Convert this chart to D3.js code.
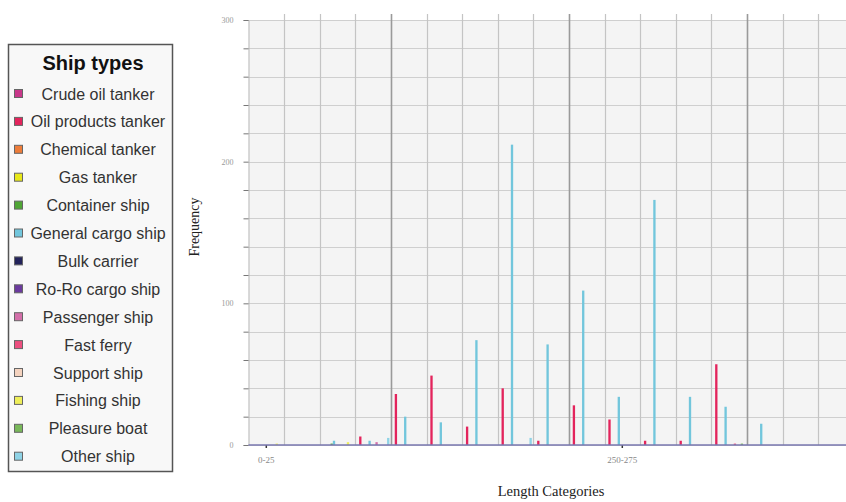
<!DOCTYPE html>
<html>
<head>
<meta charset="utf-8">
<script src="https://cdn.jsdelivr.net/npm/d3@7"></script>
<style>
    body { margin: 0; background: #fff; }
    svg { display: block; }
</style>
</head>
<body>
<script>
// Length categories (25 m bins), only some of them get a label on the axis
const categories = ["0-25", "25-50", "50-75", "75-100", "100-125", "125-150", "150-175", "175-200",
    "200-225", "225-250", "250-275", "275-300", "300-325", "325-350", "350-375", "375-400", "400-425"]
const labelledCategories = ["0-25", "250-275"]

const shipTypes = ["Crude oil tanker", "Oil products tanker", "Chemical tanker", "Gas tanker", "Container ship",
    "General cargo ship", "Bulk carrier", "Ro-Ro cargo ship", "Passenger ship", "Fast ferry", "Support ship",
    "Fishing ship", "Pleasure boat", "Other ship"]
const shipColors = ["#c8388a", "#e3245c", "#ee7d3a", "#e8e81a", "#4fa535", "#72c6dc", "#23235a",
    "#6b3a9e", "#d36fa9", "#ec4f7f", "#f4d3bf", "#efef5a", "#79b85a", "#8fd3e6"]

// frequencies per length category, one array per ship type
const crudeOil     = [0, 0, 0, 0, 0, 0, 0, 0, 0, 0, 0, 0, 0, 0, 0, 0, 0]
const oilProducts  = [0, 0, 0, 6, 36, 49, 13, 40, 3, 28, 18, 3, 3, 57, 0, 0, 0]
const chemical     = [0, 0, 0, 0, 0, 0, 0, 0, 0, 0, 0, 0, 0, 0, 0, 0, 0]
const gas          = [0, 0, 0, 0, 0, 0, 0, 0, 0, 0, 0, 0, 0, 0, 0, 0, 0]
const container    = [0, 0, 1, 0, 0, 0, 0, 0, 0, 0, 0, 0, 0, 0, 0, 0, 0]
const generalCargo = [0, 0, 3, 3, 20, 16, 74, 212, 71, 109, 34, 173, 34, 27, 15, 0, 0]
const bulk         = [0, 0, 0, 0, 0, 0, 0, 0, 0, 0, 0, 0, 0, 0, 0, 0, 0]
const roro         = [0, 0, 0, 0, 0, 0, 0, 0, 0, 0, 0, 0, 0, 0, 0, 0, 0]
const passenger    = [0, 0, 0, 2, 0, 0, 0, 0, 0, 0, 0, 0, 0, 0, 0, 0, 0]
const fastFerry    = [0, 0, 0, 0, 0, 0, 0, 0, 0, 0, 0, 0, 0, 1, 0, 0, 0]
const support      = [0, 0, 0, 0, 0, 0, 0, 0, 0, 0, 0, 0, 0, 0, 0, 0, 0]
const fishing      = [1, 0, 2, 0, 0, 0, 0, 0, 0, 0, 0, 0, 0, 0, 0, 0, 0]
const pleasure     = [0, 0, 0, 0, 0, 0, 0, 0, 0, 0, 0, 0, 0, 1, 0, 0, 0]
const other        = [0, 0, 0, 5, 0, 0, 0, 5, 0, 0, 0, 0, 0, 0, 0, 0, 0]

const seriesValues = [crudeOil, oilProducts, chemical, gas, container, generalCargo, bulk,
    roro, passenger, fastFerry, support, fishing, pleasure, other]

const yTicks = d3.range(0, 301, 20)

const width = 846
const height = 502
const plotLeft = 248.5
const plotTop = 20
const plotBottom = 445
const catStep = 35.6

const svg = d3.select("body").append("svg")
    .attr("width", width)
    .attr("height", height)

const x0 = d3.scaleBand()
    .domain(categories)
    .range([plotLeft, plotLeft + catStep * categories.length])
    .paddingInner(0.085)
    .paddingOuter(0.0425)

const x1 = d3.scaleBand()
    .domain(shipTypes)
    .range([0, x0.bandwidth()])
    .padding(0)

const y = d3.scaleLinear()
    .domain([0, 300])
    .range([plotBottom, plotTop])

// plot background
svg.append("rect")
    .attr("x", plotLeft)
    .attr("y", plotTop)
    .attr("width", width - plotLeft)
    .attr("height", plotBottom - plotTop)
    .attr("fill", "#f4f4f4")

// horizontal grid, every 20
svg.append("g")
    .selectAll("line")
    .data(yTicks)
    .join("line")
    .attr("x1", plotLeft)
    .attr("x2", width)
    .attr("y1", d => Math.round(y(d)) + 0.5)
    .attr("y2", d => Math.round(y(d)) + 0.5)
    .attr("stroke", "#cfcfcf")
    .attr("stroke-width", 1.2)

// vertical grid on category boundaries, darker every fifth one
const boundaries = d3.range(1, categories.length + 1)
svg.append("g")
    .selectAll("line")
    .data(boundaries)
    .join("line")
    .attr("x1", i => Math.round(plotLeft + i * x0.step()) + 0.5)
    .attr("x2", i => Math.round(plotLeft + i * x0.step()) + 0.5)
    .attr("y1", plotTop - 6)
    .attr("y2", plotBottom)
    .attr("stroke", i => i % 5 === 4 ? "#9a9a9a" : "#c4c4c4")
    .attr("stroke-width", i => i % 5 === 4 ? 1.6 : 1.2)

// bars
const barData = seriesValues.flatMap((values, s) =>
    values.map((v, c) => ({type: shipTypes[s], color: shipColors[s], cat: categories[c], value: v})))
    .filter(d => d.value > 0)

svg.append("g")
    .selectAll("rect")
    .data(barData)
    .join("rect")
    .attr("x", d => x0(d.cat) + x1(d.type))
    .attr("y", d => y(d.value))
    .attr("width", x1.bandwidth())
    .attr("height", d => y(0) - y(d.value))
    .attr("fill", d => d.color)

// y axis
const yAxis = svg.append("g")
    .attr("transform", `translate(${plotLeft},0)`)
    .call(d3.axisLeft(y)
        .tickValues(yTicks)
        .tickSize(5)
        .tickPadding(10)
        .tickFormat(d => d % 100 === 0 ? d : ""))
yAxis.select(".domain").attr("stroke", "#b8b8b8")
yAxis.selectAll(".tick line").attr("stroke", "#777")
yAxis.selectAll("text")
    .attr("fill", "#999")
    .style("font", "8px 'Liberation Serif', serif")

// x axis
const xAxis = svg.append("g")
    .attr("transform", `translate(0,${plotBottom})`)
    .call(d3.axisBottom(x0)
        .tickValues(labelledCategories)
        .tickSize(3)
        .tickPadding(9))
xAxis.select(".domain").remove()
xAxis.append("line")
    .attr("x1", plotLeft)
    .attr("x2", width)
    .attr("stroke", "#7a78b0")
    .attr("stroke-width", 1.6)
xAxis.selectAll(".tick line").attr("stroke", "#333").attr("stroke-width", 1.5)
xAxis.selectAll("text")
    .attr("fill", "#888")
    .style("font", "9px 'Liberation Serif', serif")

// axis titles
svg.append("text")
    .attr("x", 551)
    .attr("y", 496)
    .attr("text-anchor", "middle")
    .attr("fill", "#222")
    .style("font", "14.5px 'Liberation Serif', serif")
    .text("Length Categories")

svg.append("text")
    .attr("transform", "translate(199,227) rotate(-90)")
    .attr("text-anchor", "middle")
    .attr("fill", "#222")
    .style("font", "14px 'Liberation Serif', serif")
    .text("Frequency")

// legend
const legend = svg.append("g")
legend.append("rect")
    .attr("x", 8.5)
    .attr("y", 44.5)
    .attr("width", 164)
    .attr("height", 427)
    .attr("fill", "#f8f8f8")
    .attr("stroke", "#555")
    .attr("stroke-width", 1.5)

legend.append("text")
    .attr("x", 93)
    .attr("y", 70)
    .attr("text-anchor", "middle")
    .attr("fill", "#111")
    .style("font", "bold 20px 'Liberation Sans', Arial, sans-serif")
    .text("Ship types")

const item = legend.selectAll("g.item")
    .data(shipTypes)
    .join("g")
    .classed("item", true)
    .attr("transform", (d, i) => `translate(0,${94 + i * 27.9})`)

item.append("rect")
    .attr("x", 14.5)
    .attr("y", -4.5)
    .attr("width", 8)
    .attr("height", 8)
    .attr("fill", (d, i) => shipColors[i])
    .attr("stroke", "#666")
    .attr("stroke-width", 1)

item.append("text")
    .attr("x", 98)
    .attr("y", 5.5)
    .attr("text-anchor", "middle")
    .attr("fill", "#333")
    .style("font", "16px 'Liberation Sans', Arial, sans-serif")
    .text(d => d)
</script>
</body>
</html>
